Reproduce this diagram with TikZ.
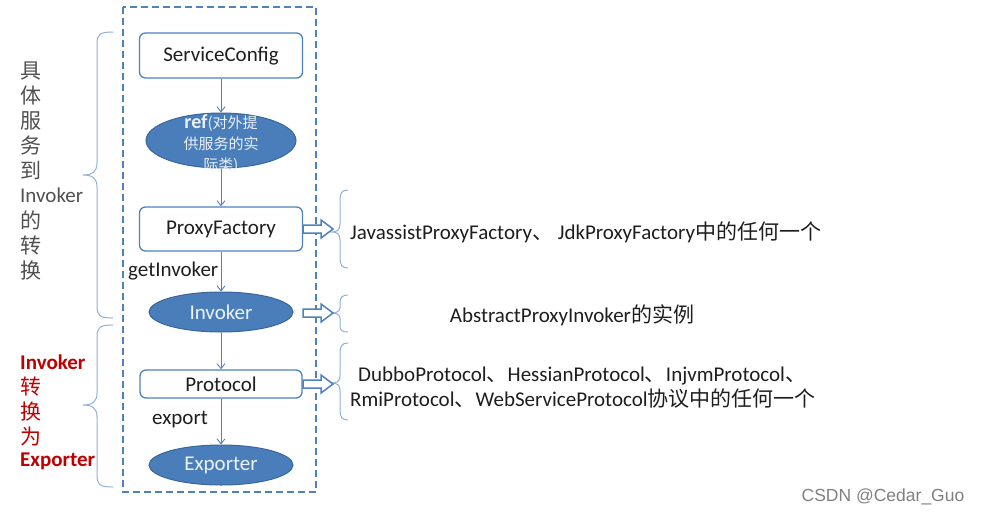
\documentclass[tikz,border=0pt]{standalone}
\usepackage{fontspec}
\setmainfont{Carlito}
\newfontfamily\cjk{Noto Sans CJK SC}
\newfontfamily\wm{Liberation Sans}
\usetikzlibrary{shapes.geometric,arrows.meta}
\definecolor{bl}{HTML}{4F81BD}
\definecolor{elfill}{HTML}{4A7EBB}
\definecolor{elline}{HTML}{3A6699}
\definecolor{brc}{HTML}{8EAFD8}
\definecolor{txt}{HTML}{1E1E1E}
\definecolor{redt}{HTML}{C00000}
\definecolor{grayt}{HTML}{505050}
\newcommand{\fsz}[1]{\fontsize{#1}{#1}\selectfont}
\tikzset{
  box/.style={draw=bl, line width=1.3pt, rounded corners=6pt, fill=white, inner sep=0pt,
    minimum width=163pt, text=txt, font=\fsz{21}},
  ell/.style={ellipse, draw=elline, line width=1pt, fill=elfill, inner sep=0pt,
    minimum width=144pt, minimum height=40pt, text=white!90!bl, font=\fsz{21}},
  conn/.style={draw=bl, line width=0.9pt, -{Straight Barb[length=5pt,width=8pt]}},
  lbl/.style={anchor=west, text=txt, font=\fsz{21}, inner sep=0pt},
  lefttxt/.style={anchor=west, text=grayt, font=\fsz{21}, inner sep=0pt},
  redtxt/.style={anchor=west, text=redt, font=\fsz{21}\bfseries, inner sep=0pt},
  brace/.style={draw=brc, line width=1pt},
  hollow/.style={draw=bl, line width=1.5pt, fill=white, line join=miter},
}
\begin{document}
\begin{tikzpicture}[x=1pt,y=-1pt]
\useasboundingbox (0,0) rectangle (981,516);
% frame
\draw[bl, line width=1.4pt, dash pattern=on 7pt off 4pt] (123,7) rectangle (316,492);
% main column
\node[box, minimum height=45pt, text depth=2pt] (sc) at (221,55.5) {ServiceConfig};
\node[ell, minimum width=150pt, minimum height=55pt] (ref) at (221,140.5) {};
\node[text=white!88!bl, align=center, inner sep=0pt, font={\cjk\fontsize{15}{21}\selectfont}] (reftxt) at (221,144.5)
  {{\rmfamily\bfseries\fontsize{20}{21}\selectfont ref}(对外提\\供服务的实\\际类)};
\node[box, minimum height=44pt] (pf) at (221,229) {ProxyFactory};
\node[ell] (inv) at (221,312) {Invoker};
\node[box, minimum height=28pt, minimum width=162pt] (pr) at (221,384) {Protocol};
\node[ell] (exp) at (221,465) {Exporter};
\draw[conn] (sc) -- (ref);
\draw[conn] (ref) -- (pf);
\draw[conn] (pf) -- (inv);
\draw[conn] (inv) -- (pr);
\draw[conn] (pr) -- (exp);
\node[lbl] (gi) at (128,271) {getInvoker};
\node[lbl] (ex) at (152,420) {export};
% left texts
\foreach \t [count=\i from 0] in {{\cjk 具},{\cjk 体},{\cjk 服},{\cjk 务},{\cjk 到},Invoker,{\cjk 的},{\cjk 转},{\cjk 换}}
  \node[lefttxt] (lt\i) at (20,71+24.9*\i) {\t};
\foreach \t [count=\i from 0] in {Invoker,{\cjk\mdseries 转},{\cjk\mdseries 换},{\cjk\mdseries 为},Exporter}
  \node[redtxt] (rt\i) at (20,362+24.8*\i) {\t};
% left braces
\draw[brace] (113,32) .. controls (100,32) and (97,34) .. (97,44) -- (97,163)
  .. controls (97,172) and (92,175) .. (83,175)
  .. controls (92,175) and (97,178) .. (97,187) -- (97,306)
  .. controls (97,316) and (100,318) .. (113,318);
\draw[brace] (113,325) .. controls (100,325) and (97,327) .. (97,337) -- (97,393)
  .. controls (97,402) and (92,405) .. (83,405)
  .. controls (92,405) and (97,408) .. (97,417) -- (97,475)
  .. controls (97,485) and (100,487) .. (113,487);
% right braces
\draw[brace] (348,190) .. controls (342,190) and (340,193) .. (340,200) -- (340,224)
  .. controls (340,230) and (337,232) .. (332,232)
  .. controls (337,232) and (340,234) .. (340,240) -- (340,258)
  .. controls (340,265) and (342,268) .. (348,268);
\draw[brace] (348,295) .. controls (343,295) and (340,297) .. (340,302) -- (340,308)
  .. controls (340,311) and (337,313) .. (332,313)
  .. controls (337,313) and (340,315) .. (340,318) -- (340,326)
  .. controls (340,331) and (343,332) .. (348,332);
\draw[brace] (348,343) .. controls (342,343) and (340,346) .. (340,353) -- (340,376)
  .. controls (340,381) and (337,383) .. (332,383)
  .. controls (337,383) and (340,385) .. (340,390) -- (340,410)
  .. controls (340,417) and (342,420) .. (348,420);
% hollow arrows
\foreach \n/\y in {pf/229, inv/313, pr/384} {
  \draw[hollow] (303,\y) ++(0,-4) -- ++(18,0) -- ++(0,-5) -- ++(12,9) -- ++(-12,9) -- ++(0,-5) -- ++(-18,0) -- cycle;
}
% right texts
\node[lbl] (t1) at (350,232) {JavassistProxyFactory{\cjk 、} JdkProxyFactory{\cjk 中的任何一个}};
\node[lbl, anchor=center] (t2) at (572,315) {AbstractProxyInvoker{\cjk 的实例}};
\node[lbl] (t3) at (358,376) {DubboProtocol{\cjk 、}HessianProtocol{\cjk 、}InjvmProtocol{\cjk 、}};
\node[lbl] (t4) at (350,399) {RmiProtocol{\cjk 、}WebServiceProtocol{\cjk 协议中的任何一个}};
% watermark
\node[text=black!50, font=\wm\fsz{17.5}, inner sep=0pt] (wm) at (883,497) {CSDN @Cedar\_Guo};
\end{tikzpicture}
\end{document}
